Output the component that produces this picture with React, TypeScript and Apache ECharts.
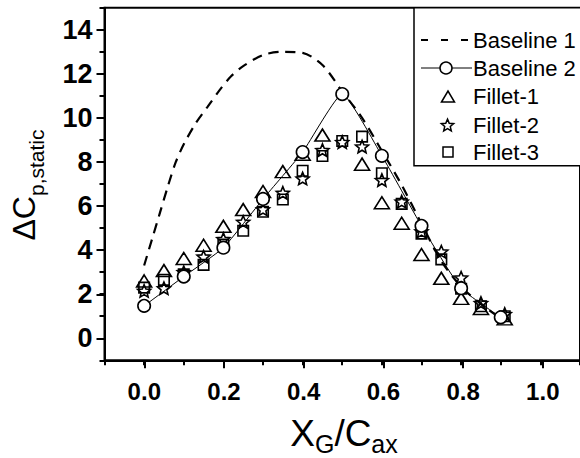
import React, { useEffect, useRef } from 'react';
import * as echarts from 'echarts';

// ---- data ----
const baseline1X = [0, 0.02, 0.04, 0.06, 0.08, 0.1, 0.13, 0.16, 0.19, 0.22, 0.25, 0.3, 0.35, 0.4, 0.45, 0.5, 0.55, 0.6, 0.65, 0.7, 0.75, 0.8, 0.85, 0.9, 0.91];
const baseline1Y = [3.3, 4.5, 5.7, 6.9, 8.0, 8.8, 9.75, 10.5, 11.25, 11.9, 12.35, 12.85, 13.0, 12.95, 12.4, 11.2, 10.0, 8.5, 6.95, 5.2, 3.5, 2.35, 1.55, 0.9, 0.82];

const baseline2X = [0, 0.1, 0.2, 0.3, 0.4, 0.5, 0.6, 0.7, 0.8, 0.9];
const baseline2Y = [1.47, 2.8, 4.11, 6.32, 8.45, 11.08, 8.28, 5.1, 2.27, 0.95];

const filletX = [0, 0.05, 0.1, 0.15, 0.2, 0.25, 0.3, 0.35, 0.4, 0.45, 0.5, 0.55, 0.6, 0.65, 0.7, 0.75, 0.8, 0.85, 0.91];
const fillet1Y = [2.6, 3.07, 3.62, 4.22, 5.08, 5.84, 6.66, 7.56, 8.35, 9.22, null, 7.9, 6.15, 5.22, 3.8, 2.72, 1.81, 1.35, 0.88];
const fillet2Y = [2.15, 2.27, 3.0, 3.7, 4.5, 5.28, 5.85, 6.6, 7.25, 8.54, 8.9, 8.7, 7.18, 6.2, 4.85, 3.93, 2.75, 1.6, 1.1];
const fillet3Y = [2.3, 2.65, 2.9, 3.33, 4.25, 4.88, 5.74, 6.3, 7.6, 8.27, 8.95, 9.15, 7.49, 6.1, 4.75, 3.58, 2.25, 1.45, 1.0];

const xTickLabels = ['0.0', '0.2', '0.4', '0.6', '0.8', '1.0'];
const yTickLabels = ['0', '2', '4', '6', '8', '10', '12', '14'];
const legendNames = ['Baseline 1', 'Baseline 2', 'Fillet-1', 'Fillet-2', 'Fillet-3'];

const FONT = '"Liberation Sans", Arial, sans-serif';
const STAR = 'path://M0,-1L0.265,-0.364L0.951,-0.309L0.428,0.139L0.588,0.809L0,0.45L-0.588,0.809L-0.428,0.139L-0.951,-0.309L-0.265,-0.364Z';

function starPoints(cx: number, cy: number, R: number) {
  const pts: number[][] = [];
  for (let i = 0; i < 10; i++) {
    const a = (-90 + i * 36) * Math.PI / 180;
    const r = i % 2 === 0 ? R : R * 0.45;
    pts.push([cx + r * Math.cos(a), cy + r * Math.sin(a) + R * 0.1]);
  }
  return pts;
}

const pairs = (xs: number[], ys: (number | null)[]) =>
  xs.map((x, i) => [x, ys[i]]).filter((d) => d[1] !== null && d[1] !== undefined);

const hollow = { color: 'rgba(0,0,0,0)', borderColor: '#000', borderWidth: 1.6, opacity: 1 };

function buildOption(): any {
  const rows = [40, 68, 96.5, 125, 152];
  const textX = 473;
  return {
    animation: false,
    backgroundColor: '#fff',
    grid: [
      { left: 104.5, top: 7.7, width: 478.2, height: 352.6, show: true, borderColor: '#000', borderWidth: 2 },
      { left: 144.3, top: 30, width: 398.5, height: 308.3, show: false },
    ],
    xAxis: [
      {
        type: 'value', gridIndex: 0, min: -0.1, max: 1.1, interval: 0.1,
        axisLine: { show: true, onZero: false, lineStyle: { color: '#000', width: 2 } },
        axisTick: { show: true, length: 5, lineStyle: { color: '#000', width: 2 } },
        axisLabel: { show: false }, splitLine: { show: false },
      },
      {
        type: 'value', gridIndex: 1, min: 0, max: 1.0, interval: 0.2, offset: 22,
        axisLine: { show: false, onZero: false },
        axisTick: { show: true, length: 8, lineStyle: { color: '#000', width: 2 } },
        axisLabel: {
          show: true, margin: 19, color: '#000', fontSize: 24, fontWeight: 'bold', fontFamily: FONT,
          formatter: (v: number) => xTickLabels[Math.round(v / 0.2)] ?? '',
        },
        splitLine: { show: false },
      },
    ],
    yAxis: [
      {
        type: 'value', gridIndex: 0, min: -1, max: 15, interval: 1,
        axisLine: { show: true, onZero: false, lineStyle: { color: '#000', width: 2 } },
        axisTick: { show: true, length: 5, lineStyle: { color: '#000', width: 2 } },
        axisLabel: { show: false }, splitLine: { show: false },
      },
      {
        type: 'value', gridIndex: 1, min: 0, max: 14, interval: 2, offset: 39.8,
        axisLine: { show: false, onZero: false },
        axisTick: { show: true, length: 8, lineStyle: { color: '#000', width: 2 } },
        axisLabel: {
          show: true, margin: 12, color: '#000', fontSize: 27, fontWeight: 'bold', fontFamily: FONT,
          formatter: (v: number) => yTickLabels[Math.round(v / 2)] ?? '',
        },
        splitLine: { show: false },
      },
    ],
    series: [
      {
        type: 'line', name: legendNames[0], xAxisIndex: 0, yAxisIndex: 0,
        data: pairs(baseline1X, baseline1Y), smooth: 0.3, symbol: 'none', silent: true,
        lineStyle: { color: '#000', width: 2.2, type: [10, 7] }, z: 2,
      },
      {
        type: 'scatter', name: legendNames[2], xAxisIndex: 0, yAxisIndex: 0,
        data: pairs(filletX, fillet1Y), symbol: 'triangle', symbolSize: [15, 12], itemStyle: hollow, z: 3, silent: true,
      },
      {
        type: 'scatter', name: legendNames[3], xAxisIndex: 0, yAxisIndex: 0,
        data: pairs(filletX, fillet2Y), symbol: STAR, symbolSize: 13, symbolKeepAspect: true, itemStyle: hollow, z: 3, silent: true,
      },
      {
        type: 'scatter', name: legendNames[4], xAxisIndex: 0, yAxisIndex: 0,
        data: pairs(filletX, fillet3Y), symbol: 'rect', symbolSize: 10.5, itemStyle: hollow, z: 3, silent: true,
      },
      {
        type: 'line', name: legendNames[1], xAxisIndex: 0, yAxisIndex: 0,
        data: pairs(baseline2X, baseline2Y), smooth: 0.15, symbol: 'circle', symbolSize: 12.5, showSymbol: true, silent: true,
        itemStyle: { color: '#fff', borderColor: '#000', borderWidth: 1.6, opacity: 1 },
        lineStyle: { color: '#000', width: 1 }, z: 5,
      },
    ],
    graphic: [
      { type: 'rect', z: 100, shape: { x: 414, y: 7.7, width: 220, height: 158 }, style: { fill: '#fff', stroke: '#000', lineWidth: 1.5 } },
      { type: 'line', z: 101, shape: { x1: 421, y1: rows[0], x2: 472, y2: rows[0] }, style: { stroke: '#000', lineWidth: 2, lineDash: [7, 13] } },
      { type: 'line', z: 101, shape: { x1: 421, y1: rows[1], x2: 472, y2: rows[1] }, style: { stroke: '#000', lineWidth: 1 } },
      { type: 'circle', z: 102, shape: { cx: 446, cy: rows[1], r: 6 }, style: { fill: '#fff', stroke: '#000', lineWidth: 1.5 } },
      { type: 'polygon', z: 101, shape: { points: [[441.5, rows[2] + 5.5], [448, rows[2] - 5.5], [454.5, rows[2] + 5.5]] }, style: { fill: 'none', stroke: '#000', lineWidth: 1.5 } },
      { type: 'polygon', z: 101, shape: { points: starPoints(447.5, rows[3], 6.5) }, style: { fill: 'none', stroke: '#000', lineWidth: 1.5 } },
      { type: 'rect', z: 101, shape: { x: 443, y: rows[4] - 5, width: 10, height: 10 }, style: { fill: 'none', stroke: '#000', lineWidth: 1.5 } },
      ...legendNames.map((n, i) => ({
        type: 'text', z: 101, x: textX, y: rows[i],
        style: { text: n, fontSize: 22, fontFamily: FONT, fill: '#000', align: 'left', verticalAlign: 'middle' },
      })),
      {
        type: 'text', z: 101, x: 23.8, y: 185, rotation: Math.PI / 2,
        style: {
          text: '{m|ΔC}{s|p,static}', align: 'center', verticalAlign: 'middle', fill: '#000',
          rich: {
            m: { fontSize: 32, fontFamily: FONT, lineHeight: 46.7, fill: '#000' },
            s: { fontSize: 21, fontFamily: FONT, lineHeight: 21, verticalAlign: 'bottom', fill: '#000' },
          },
        },
      },
      {
        type: 'text', z: 101, x: 344, y: 433,
        style: {
          text: '{m|X}{s|G}{m|/C}{s|ax}', align: 'center', verticalAlign: 'middle', fill: '#000',
          rich: {
            m: { fontSize: 37, fontFamily: FONT, lineHeight: 46, fill: '#000' },
            s: { fontSize: 25, fontFamily: FONT, lineHeight: 25, verticalAlign: 'bottom', fill: '#000' },
          },
        },
      },
    ],
  };
}

export default function App() {
  const ref = useRef<HTMLDivElement>(null);
  useEffect(() => {
    if (!ref.current) return;
    const chart = echarts.init(ref.current, null, { renderer: 'svg' });
    chart.setOption(buildOption());
    return () => chart.dispose();
  }, []);
  return (
    <div
      ref={ref}
      style={{ position: 'fixed', left: 0, top: 0, width: 580, height: 458, background: '#fff' }}
    />
  );
}
